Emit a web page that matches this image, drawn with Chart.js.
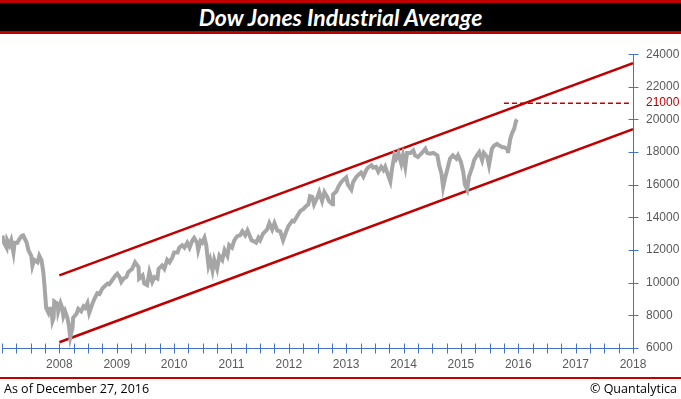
<!DOCTYPE html>
<html>
<head>
<meta charset="utf-8">
<script src="https://cdn.jsdelivr.net/npm/chart.js@4.4.1/dist/chart.umd.min.js"></script>
<style>
body { margin: 0; background: #fff; width: 681px; height: 399px; overflow: hidden; position: relative; }
#title { position: absolute; left: 0; top: 0; width: 681px; height: 28px; background: #000;
  border-top: 3px solid #c00000; border-bottom: 3px solid #c00000;
  color: #fff; font: italic bold 23px Lato, sans-serif; text-align: center; line-height: 28px; }
#wrap { position: absolute; left: 0; top: 34px; width: 681px; height: 344px; }
#foot { position: absolute; left: 0; top: 377px; width: 681px; height: 22px; border-top: 2px solid #c00000;
  font: 12.5px "Open Sans", sans-serif; color: #000; }
#foot .l { position: absolute; left: 4px; top: 1px; }
#foot .r { position: absolute; right: 4px; top: 1px; }
</style>
</head>
<body>
<div id="title">Dow Jones Industrial Average</div>
<div id="wrap"><canvas id="chart"></canvas></div>
<div id="foot"><span class="l">As of December 27, 2016</span><span class="r">© Quantalytica</span></div>
<script>
// positions on the chart's year axis (as labelled)
var weeks = [2007.01, 2007.02, 2007.08, 2007.09, 2007.13, 2007.16, 2007.20, 2007.22, 2007.27, 2007.29,
    2007.34, 2007.37, 2007.39, 2007.43, 2007.46, 2007.51, 2007.53, 2007.56, 2007.62, 2007.65,
    2007.69, 2007.72, 2007.74, 2007.77, 2007.81, 2007.83, 2007.86, 2007.88, 2007.90, 2007.91,
    2007.97, 2007.98, 2008.02, 2008.05, 2008.07, 2008.10, 2008.14, 2008.16, 2008.19, 2008.23,
    2008.24, 2008.30, 2008.33, 2008.38, 2008.42, 2008.45, 2008.49, 2008.52, 2008.58, 2008.61,
    2008.66, 2008.70, 2008.75, 2008.78, 2008.84, 2008.87, 2008.92, 2008.98, 2009.01, 2009.05,
    2009.08, 2009.12, 2009.17, 2009.20, 2009.27, 2009.32, 2009.38, 2009.39, 2009.45, 2009.48,
    2009.53, 2009.57, 2009.62, 2009.66, 2009.71, 2009.73, 2009.79, 2009.83, 2009.88, 2009.92,
    2009.97, 2010.00, 2010.06, 2010.09, 2010.14, 2010.18, 2010.23, 2010.27, 2010.32, 2010.35,
    2010.40, 2010.42, 2010.46, 2010.49, 2010.53, 2010.56, 2010.60, 2010.63, 2010.67, 2010.70,
    2010.75, 2010.79, 2010.84, 2010.88, 2010.93, 2010.96, 2011.01, 2011.05, 2011.10, 2011.15,
    2011.19, 2011.24, 2011.28, 2011.31, 2011.35, 2011.38, 2011.43, 2011.47, 2011.50, 2011.55,
    2011.62, 2011.66, 2011.71, 2011.75, 2011.80, 2011.85, 2011.90, 2011.94, 2011.99, 2012.06,
    2012.09, 2012.15, 2012.20, 2012.25, 2012.29, 2012.34, 2012.37, 2012.41, 2012.44, 2012.50,
    2012.53, 2012.58, 2012.62, 2012.67, 2012.70, 2012.76, 2012.77, 2012.83, 2012.86, 2012.91,
    2012.95, 2013.00, 2013.03, 2013.09, 2013.12, 2013.17, 2013.21, 2013.26, 2013.30, 2013.35,
    2013.38, 2013.44, 2013.47, 2013.52, 2013.56, 2013.61, 2013.65, 2013.68, 2013.77, 2013.80,
    2013.84, 2013.87, 2013.91, 2013.96, 2013.99, 2014.03, 2014.06, 2014.12, 2014.17, 2014.20,
    2014.25, 2014.32, 2014.38, 2014.41, 2014.46, 2014.52, 2014.59, 2014.62, 2014.66, 2014.69,
    2014.73, 2014.76, 2014.81, 2014.86, 2014.92, 2014.95, 2015.00, 2015.04, 2015.07, 2015.11,
    2015.14, 2015.20, 2015.23, 2015.28, 2015.32, 2015.37, 2015.40, 2015.46, 2015.49, 2015.54,
    2015.58, 2015.63, 2015.67, 2015.72, 2015.75, 2015.81, 2015.82, 2015.86, 2015.89, 2015.93,
    2015.96, 2015.98];
var djia = [12900, 12550, 12150, 12600, 12300, 12600, 11850, 12450, 12450, 12600,
    12850, 12900, 12750, 12450, 12000, 11650, 11050, 11400, 11250, 11650,
    11350, 10650, 9850, 8450, 8150, 8400, 8400, 7650, 7850, 8850,
    8700, 8250, 8750, 8450, 7950, 8250, 7850, 7500, 6650, 7250,
    7850, 8100, 8400, 8250, 8550, 8450, 8750, 8150, 8750, 9000,
    9350, 9300, 9650, 9750, 9950, 9900, 10150, 10450, 10550, 10350,
    10050, 10250, 10350, 10650, 10850, 11250, 10950, 10250, 10450, 9950,
    9850, 10650, 10050, 10350, 10250, 10850, 11050, 10850, 11400, 11250,
    11550, 11850, 11850, 12150, 12300, 12150, 12450, 12150, 12600, 12750,
    12450, 12000, 12550, 12450, 12750, 12300, 11050, 11400, 10750, 11400,
    10850, 11650, 11400, 12000, 11650, 12300, 12150, 12600, 12850, 12900,
    13150, 12900, 13200, 12950, 12600, 12550, 12450, 12750, 12600, 13000,
    13250, 13650, 13250, 13650, 13200, 13150, 12600, 13000, 13450, 13800,
    13750, 14100, 14400, 14500, 14650, 14800, 15300, 15250, 14800, 15250,
    15550, 15000, 15550, 15250, 15000, 14800, 15400, 15600, 15850, 16150,
    16300, 16450, 16000, 15700, 16150, 16450, 16600, 16750, 16500, 16900,
    17050, 17200, 17050, 17100, 16800, 17100, 16900, 17100, 16200, 17000,
    17800, 17600, 17950, 17300, 17800, 17100, 17950, 17950, 18100, 17800,
    17700, 17950, 18200, 17950, 17900, 17950, 17800, 17200, 16700, 15850,
    16500, 16900, 17600, 17800, 17600, 17800, 17400, 16800, 16000, 15700,
    16500, 17100, 17500, 17800, 18000, 17500, 17950, 17700, 17200, 18200,
    18400, 18500, 18400, 18300, 18300, 18200, 17950, 18800, 19150, 19450,
    19900, 20000];

var channelX = [2008, 2018];
var upperLine = [10450, 23450];
var lowerLine = [6350, 19400];
var targetX = [2015.75, 2017.95];
var targetLevel = 21000;

var yearTicks = [2008, 2009, 2010, 2011, 2012, 2013, 2014, 2015, 2016, 2017, 2018];

function pts(xs, ys) {
    var out = [];
    for (var i = 0; i < xs.length; i++) out.push({ x: xs[i], y: ys[i] });
    return out;
}

var axisColor = '#4472c4';

var axesPlugin = {
    id: 'axes',
    afterDatasetsDraw: function(chart) {
        var ctx = chart.ctx, xs = chart.scales.x, ys = chart.scales.y, a = chart.chartArea;
        ctx.save();
        ctx.strokeStyle = axisColor;
        ctx.lineWidth = 1;
        ctx.beginPath();
        var by = Math.round(a.bottom) + 0.5, rx = Math.round(a.right) + 0.5;
        ctx.moveTo(a.left, by); ctx.lineTo(rx, by);
        ctx.moveTo(rx, a.top); ctx.lineTo(rx, by);
        xs.ticks.forEach(function(t) {
            var px = Math.round(xs.getPixelForValue(t.value)) + 0.5;
            ctx.moveTo(px, by - 5); ctx.lineTo(px, by + 5);
        });
        ys.ticks.forEach(function(t) {
            if (t.value === targetLevel) return;
            var py = Math.round(ys.getPixelForValue(t.value)) + 0.5;
            ctx.moveTo(rx - 5, py); ctx.lineTo(rx + 5, py);
        });
        ctx.stroke();
        ctx.restore();
    }
};

new Chart(document.getElementById('chart'), {
    type: 'line',
    data: {
        datasets: [{
            data: pts(weeks, djia),
            borderColor: '#a6a6a6',
            borderWidth: 4,
            pointRadius: 0
        }, {
            data: pts(channelX, upperLine),
            borderColor: '#c00000',
            borderWidth: 2.5,
            pointRadius: 0
        }, {
            data: pts(channelX, lowerLine),
            borderColor: '#c00000',
            borderWidth: 2.5,
            pointRadius: 0
        }, {
            data: pts(targetX, [targetLevel, targetLevel]),
            borderColor: '#c00000',
            borderWidth: 1.5,
            borderDash: [5, 3],
            pointRadius: 0
        }]
    },
    options: {
        responsive: true,
        maintainAspectRatio: false,
        animation: false,
        layout: { padding: { top: 12, left: 2, right: 0, bottom: 0 } },
        plugins: { legend: { display: false }, tooltip: { enabled: false } },
        scales: {
            x: {
                type: 'linear',
                min: 2007,
                max: 2018,
                afterFit: function(s) { s.height = 30; s.paddingLeft = 0; },
                grid: { display: false, drawTicks: false },
                border: { display: false },
                ticks: {
                    stepSize: 0.25,
                    autoSkip: false,
                    maxRotation: 0,
                    padding: 9,
                    color: '#595959',
                    font: { family: 'Liberation Sans', size: 12 },
                    callback: function(v) { return yearTicks.indexOf(v) >= 0 ? String(v) : ''; }
                }
            },
            y: {
                position: 'right',
                min: 6000,
                max: 24000,
                afterFit: function(s) { s.width = 48; },
                afterBuildTicks: function(s) {
                    s.ticks.push({ value: targetLevel });
                    s.ticks.sort(function(a, b) { return a.value - b.value; });
                },
                grid: { display: false, drawTicks: false },
                border: { display: false },
                ticks: {
                    stepSize: 2000,
                    autoSkip: false,
                    padding: 13,
                    font: { family: 'Liberation Sans', size: 12 },
                    color: function(c) { return c.tick && c.tick.value === targetLevel ? '#c00000' : '#595959'; },
                    callback: function(v) { return String(v); }
                }
            }
        }
    },
    plugins: [axesPlugin]
});
</script>
</body>
</html>
